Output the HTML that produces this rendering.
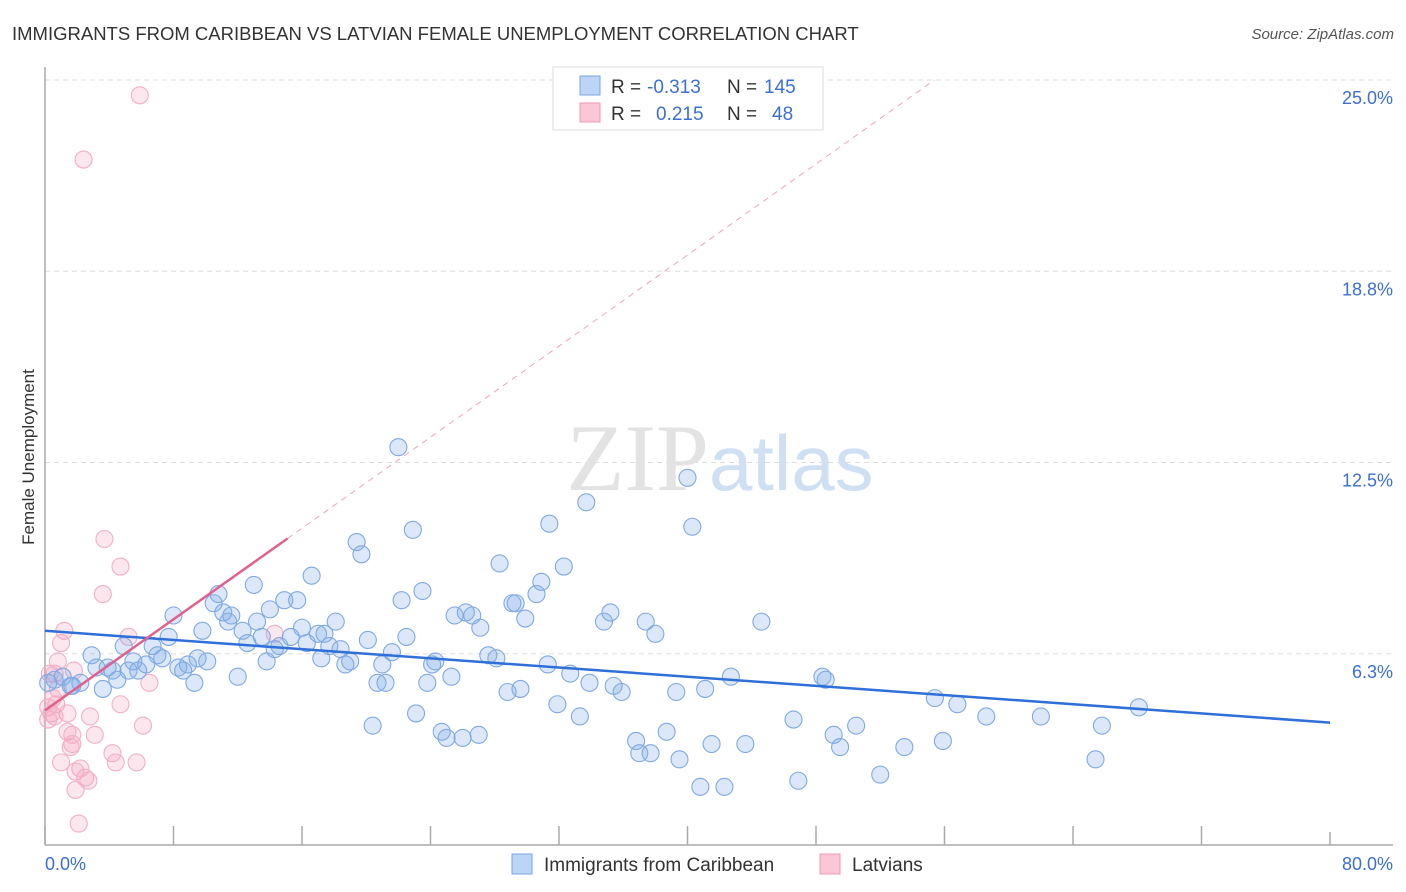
<!DOCTYPE html>
<html><head><meta charset="utf-8">
<style>
body{margin:0;background:#fff;font-family:"Liberation Sans",sans-serif;}
svg{display:block}
</style></head>
<body>
<svg id="chart" width="1406" height="892" xmlns="http://www.w3.org/2000/svg">
<text x="12" y="40" font-size="18.5" fill="#333">IMMIGRANTS FROM CARIBBEAN VS LATVIAN FEMALE UNEMPLOYMENT CORRELATION CHART</text>
<text x="1394" y="39" font-size="15" fill="#555" text-anchor="end" font-style="italic">Source: ZipAtlas.com</text>
<text x="34" y="457" font-size="17" fill="#333" text-anchor="middle" transform="rotate(-90 34 457)">Female Unemployment</text>
<g id="grid"></g>
<g id="axes"></g>
<text x="720" y="490" font-size="95" fill="#e3e3e3" text-anchor="middle" font-family="Liberation Serif,serif">ZIP<tspan fill="#cfe0f3" font-family="Liberation Sans,sans-serif" font-size="78">atlas</tspan></text>
<g id="pts"></g>
<g id="trends"></g>
<g>
<rect x="553" y="67" width="270" height="63" fill="#fff" stroke="#ddd"/>
<rect x="580" y="76" width="20" height="19" fill="#bcd4f5" stroke="#7aa6e0"/>
<rect x="580" y="103" width="20" height="19" fill="#f9c7d6" stroke="#ee9ab5"/>
<text x="611" y="93" font-size="19" fill="#333">R =</text>
<text x="647" y="93" font-size="19" fill="#3b6fd4">-0.313</text>
<text x="727" y="93" font-size="19" fill="#333">N =</text>
<text x="764" y="93" font-size="19" fill="#3b6fd4">145</text>
<text x="611" y="120" font-size="19" fill="#333">R =</text>
<text x="656" y="120" font-size="19" fill="#3b6fd4">0.215</text>
<text x="727" y="120" font-size="19" fill="#333">N =</text>
<text x="772" y="120" font-size="19" fill="#3b6fd4">48</text>
</g>
<g>
<rect x="512" y="854" width="20" height="20" fill="#bcd4f5" stroke="#7aa6e0"/>
<text x="544" y="871" font-size="19" fill="#333">Immigrants from Caribbean</text>
<rect x="820" y="854" width="20" height="20" fill="#f9c7d6" stroke="#ee9ab5"/>
<text x="852" y="871" font-size="19" fill="#333">Latvians</text>
</g>
</svg>
<script>
const yTicks=[6.25,12.5,18.75,25];
const yTickLabels=["6.3%","12.5%","18.8%","25.0%"];
const xLabels=["0.0%","80.0%"];
const blueX=[0.2,0.6,1.1,1.6,2.2,1.7,2.9,3.2,3.6,3.9,4.2,4.5,4.9,5.2,5.5,5.8,6.3,6.7,7.0,7.3,7.7,8.0,8.3,8.6,8.9,9.3,9.5,9.8,10.1,10.5,10.8,11.1,11.4,11.6,12.0,12.3,12.6,13.0,13.2,13.5,13.8,14.0,14.3,14.6,14.9,15.3,15.7,16.0,16.3,16.6,17.0,17.2,17.4,17.7,18.1,18.4,18.7,19.0,19.4,19.7,20.1,20.4,20.7,21.0,21.2,21.6,22.0,22.2,22.5,22.9,23.1,23.5,23.8,24.1,24.3,24.7,25.0,25.3,25.5,26.0,26.2,26.6,27.0,27.1,27.6,28.1,28.3,28.8,29.1,29.3,29.6,29.9,30.6,30.9,31.3,31.4,31.9,32.3,32.7,33.3,33.7,33.9,34.8,35.2,35.4,35.9,36.8,37.0,37.4,37.7,38.0,38.7,39.3,39.5,40.0,40.3,40.8,41.1,41.5,42.3,42.7,43.6,44.6,46.6,46.9,48.4,48.6,49.1,49.5,50.5,52.0,53.5,55.4,55.9,56.8,58.6,62.0,65.4,65.8,68.1];
const blueY=[5.3,5.4,5.5,5.2,5.3,5.2,6.2,5.8,5.1,5.8,5.7,5.4,6.5,5.7,6.0,5.7,5.9,6.5,6.2,6.1,6.8,7.5,5.8,5.7,5.9,5.3,6.1,7.0,6.0,7.9,8.2,7.6,7.3,7.5,5.5,7.0,6.6,8.5,7.3,6.8,6.0,7.7,6.4,6.5,8.0,6.8,8.0,7.1,6.6,8.8,6.9,6.1,6.9,6.5,7.3,6.4,5.9,6.0,9.9,9.5,6.7,3.9,5.3,5.9,5.3,6.3,13.0,8.0,6.8,10.3,4.3,8.3,5.3,5.9,6.0,3.7,3.5,5.5,7.5,3.5,7.6,7.5,3.6,7.1,6.2,6.1,9.2,5.0,7.9,7.9,5.1,7.4,8.2,8.6,5.9,10.5,4.6,9.1,5.6,4.2,11.2,5.3,7.3,7.6,5.2,5.0,3.4,3.0,7.3,3.0,6.9,3.7,5.0,2.8,12.0,10.4,1.9,5.1,3.3,1.9,5.5,3.3,7.3,4.1,2.1,5.5,5.4,3.6,3.2,3.9,2.3,3.2,4.8,3.4,4.6,4.2,4.2,2.8,3.9,4.5];
const pinkX=[5.9,2.4,3.7,4.7,3.6,1.2,5.2,1.0,0.8,1.8,0.6,0.3,6.5,0.8,0.5,0.7,0.2,0.4,1.4,0.6,0.2,2.8,4.7,6.1,3.1,1.4,1.7,1.7,1.6,4.2,4.4,1.0,5.7,2.2,1.9,2.5,2.7,1.9,2.1,14.3];
const pinkY=[24.5,22.4,10.0,9.1,8.2,7.0,6.8,6.6,6.0,5.7,5.6,5.6,5.3,5.1,4.8,4.6,4.5,4.3,4.3,4.2,4.1,4.2,4.6,3.9,3.6,3.7,3.6,3.3,3.2,3.0,2.7,2.7,2.7,2.5,2.4,2.2,2.1,1.8,0.7,6.9];
const blueTrend=[7.0,4.0];
const pinkTrend=[4.4,0.372];
const X0=45,X1=1330,Y0=845,YPER=30.6;
const sx=v=>X0+(X1-X0)*v/80;
const sy=v=>Y0-v*YPER;
const NS="http://www.w3.org/2000/svg";
function mk(tag,attrs,parent){const e=document.createElementNS(NS,tag);for(const k in attrs)e.setAttribute(k,attrs[k]);parent.appendChild(e);return e;}
const grid=document.getElementById('grid'),axes=document.getElementById('axes'),pts=document.getElementById('pts'),tr=document.getElementById('trends');
yTicks.forEach((t,i)=>{
 const l=mk('line',{x1:X0,x2:1393,y1:sy(t),y2:sy(t),stroke:'#ddd','stroke-dasharray':'5,4'},grid);
 
 
 const tx=mk('text',{x:1393,y:sy(t)+24,'font-size':18,fill:'#3b6fd4','text-anchor':'end'},grid);
 tx.textContent=yTickLabels[i];
 
 
});
mk('line',{x1:X0,x2:X0,y1:67,y2:Y0,stroke:'#aaa','stroke-width':1.5},axes);
mk('line',{x1:X0,x2:1393,y1:Y0,y2:Y0,stroke:'#aaa','stroke-width':1.5},axes);
for(let i=0;i<=10;i++){const v=i*8;mk('line',{x1:sx(v),x2:sx(v),y1:i==10?832:826,y2:Y0,stroke:'#aaa','stroke-width':1.5},axes);}
let t0=mk('text',{x:45,y:870,'font-size':18,fill:'#3b6fd4'},axes);t0.textContent=xLabels[0];


let t1=mk('text',{x:1393,y:870,'font-size':18,fill:'#3b6fd4','text-anchor':'end'},axes);t1.textContent=xLabels[1];


pinkX.forEach((x,i)=>{const c=mk('circle',{cx:sx(x),cy:sy(pinkY[i]),r:8.5,fill:'rgba(244,170,195,0.28)',stroke:'#f2afc5','stroke-width':1.1},pts);
 
 });
blueX.forEach((x,i)=>{const c=mk('circle',{cx:sx(x),cy:sy(blueY[i]),r:8.5,fill:'rgba(130,172,232,0.28)',stroke:'#80a9e2','stroke-width':1.1},pts);
 
 });
const bl=mk('line',{x1:sx(0),y1:sy(blueTrend[0]),x2:sx(80),y2:sy(blueTrend[1]),stroke:'#2f6fd8','stroke-width':2.5},tr);


const xs=15.1,xe=(25-pinkTrend[0])/pinkTrend[1];
const pl=mk('line',{x1:sx(0),y1:sy(pinkTrend[0]),x2:sx(xs),y2:sy(pinkTrend[0]+pinkTrend[1]*xs),stroke:'#e0608e','stroke-width':2.5},tr);


const pd=mk('line',{x1:sx(xs),y1:sy(pinkTrend[0]+pinkTrend[1]*xs),x2:sx(xe),y2:sy(25),stroke:'#eaa6bf','stroke-width':1,'stroke-dasharray':'6,5'},tr);


</script>
</body></html>
